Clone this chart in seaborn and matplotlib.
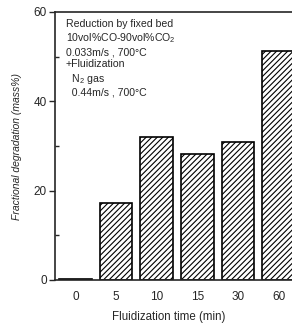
import matplotlib
matplotlib.use("Agg")
import matplotlib.pyplot as plt
import seaborn as sns
import pandas as pd

# 数据
times = ["0", "5", "10", "15", "30", "60"]
degradation = [0.3, 17.3, 32.0, 28.3, 31.0, 51.2]

df = pd.DataFrame({"time": times, "deg": degradation})

sns.set_style("ticks")
plt.rcParams['font.family'] = ['Liberation Sans', 'DejaVu Sans']
plt.rcParams['mathtext.fontset'] = 'custom'
plt.rcParams['mathtext.rm'] = 'Liberation Sans'
plt.rcParams['hatch.linewidth'] = 0.8

fig = plt.figure(figsize=(2.92, 3.25), dpi=100)
# 右边被裁掉：x轴范围 -0.5..5.35 正好占到图片右缘
ax = fig.add_axes([55 / 292, 45 / 325, 238 / 292, 268 / 325])

sns.barplot(data=df, x="time", y="deg", ax=ax, color="white", width=0.8,
            edgecolor="black", linewidth=1.2, hatch="//////", saturation=1)

ax.set_xlim(-0.5, 5.35)
ax.set_ylim(0, 60)
ax.set_yticks([0, 20, 40, 60])
ax.set_yticks([10, 30, 50], minor=True)
ax.tick_params(axis="y", which="major", length=4, width=1, labelsize=8.5, pad=2)
ax.tick_params(axis="y", which="minor", length=3, width=1, direction="in")
ax.tick_params(axis="x", length=0, labelsize=8.5, pad=8)
for s in ax.spines.values():
    s.set_linewidth(1.2)
ax.spines["right"].set_visible(False)

ax.set_xlabel("")
fig.text(169 / 292, 1 - 317 / 325, "Fluidization time (min)", fontsize=8.3,
         ha="center", va="center")
ax.set_ylabel("Fractional degradation (mass%)", fontsize=7.5, style="italic", labelpad=8)

note = ("Reduction by fixed bed\n10vol%CO-90vol%CO$\\mathrm{_2}$\n0.033m/s , 700°C\n+Fluidization\n"
        "  N$\\mathrm{_2}$ gas\n  0.44m/s , 700°C")
ax.text(66 / 292, 1 - 19 / 325, note, transform=fig.transFigure,
        fontsize=7.6, va="top", ha="left", linespacing=1.25)

plt.savefig("out.png", dpi=100)
